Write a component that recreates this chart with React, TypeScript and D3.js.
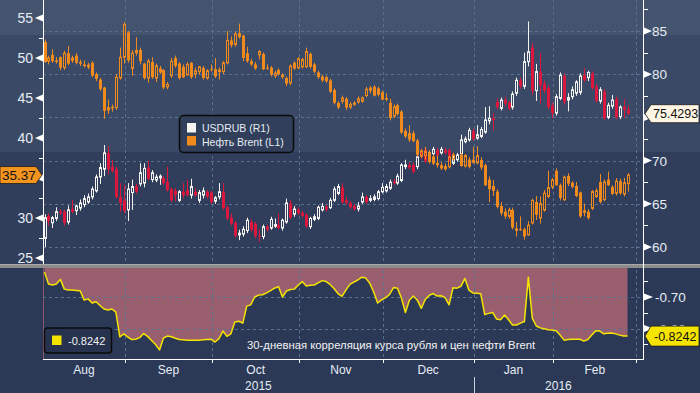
import React from 'react'
import * as d3 from 'd3'

type Candle = [number, number, number, number] // open, high, low, close

// Brent, daily candles from 3 Aug 2015 (null = no trading that day)
const brent: (Candle | null)[] = [
  [52.0, 52.3, 49.4, 49.5], [49.6, 50.3, 49.2, 50.0], [50.4, 51.1, 49.4, 49.6], [49.7, 50.1, 49.3, 49.5],
  [50.1, 50.2, 48.5, 48.8], [48.8, 50.9, 48.5, 50.6], [50.6, 51.5, 49.1, 49.3], [49.7, 50.3, 49.4, 50.0],
  [50.3, 50.6, 49.2, 49.4], [49.5, 49.8, 49.0, 49.3], [49.2, 49.7, 48.8, 49.0], [48.9, 49.4, 48.6, 49.1],
  [49.4, 49.6, 47.6, 47.8], [48.0, 48.2, 47.1, 47.4], [47.3, 47.5, 45.9, 46.1], [46.3, 46.4, 42.4, 43.4],
  [43.5, 44.8, 43.0, 43.8], [43.9, 44.2, 43.3, 43.7], [43.8, 48.0, 43.5, 47.6], [47.5, 51.3, 47.3, 50.1],
  [50.1, 54.5, 49.3, 54.2], [53.2, 53.4, 49.4, 49.7], [48.7, 51.0, 47.8, 50.6], [51.0, 52.6, 50.3, 50.6],
  [51.0, 51.3, 49.2, 49.6], [49.3, 49.4, 47.3, 47.5], [47.5, 49.9, 46.9, 49.6], [49.5, 50.1, 47.4, 47.6],
  [47.5, 49.3, 47.0, 49.0], [48.7, 49.0, 48.0, 48.2], [48.5, 48.6, 46.1, 46.3], [46.4, 47.0, 46.1, 46.7],
  [47.8, 50.0, 47.5, 49.6], [50.0, 50.3, 48.8, 49.0], [49.3, 49.5, 47.3, 47.5], [48.9, 49.2, 47.5, 47.6],
  [47.9, 49.5, 47.8, 49.2], [49.4, 49.5, 47.4, 47.6], [48.0, 48.8, 47.5, 48.4], [48.3, 49.0, 47.9, 48.9],
  [48.75, 49.0, 47.3, 47.5], [47.5, 48.6, 47.3, 48.4], [48.6, 49.2, 48.3, 48.5], [48.6, 50.0, 47.5, 47.7],
  [48.3, 48.8, 47.3, 48.5], [48.3, 49.6, 48.0, 49.4], [49.4, 53.4, 49.2, 52.2], [52.2, 52.7, 51.3, 51.6],
  [51.7, 53.3, 51.4, 53.0], [53.1, 54.3, 52.4, 52.6], [52.8, 52.9, 49.6, 50.0], [50.6, 51.4, 49.4, 49.6],
  [49.6, 49.9, 49.0, 49.2], [49.2, 49.5, 48.5, 48.7], [50.4, 51.0, 49.8, 50.8], [50.5, 50.7, 48.5, 48.6],
  [48.8, 49.2, 48.5, 48.7], [48.8, 49.0, 47.7, 47.9], [47.8, 48.4, 47.5, 48.1], [48.5, 48.7, 47.8, 48.0],
  [47.9, 48.1, 47.4, 47.6], [47.5, 47.7, 46.5, 46.8], [46.9, 49.2, 46.6, 49.0], [49.4, 49.6, 48.5, 48.7],
  [48.8, 50.1, 48.6, 49.9], [48.9, 50.0, 48.7, 49.8], [48.9, 51.3, 48.8, 50.8], [50.5, 50.7, 48.7, 48.9],
  [49.2, 49.4, 48.1, 48.3], [48.2, 48.4, 47.4, 47.6], [47.7, 47.9, 47.0, 47.2], [47.6, 47.8, 46.9, 47.1],
  [47.2, 47.4, 45.6, 45.8], [46.0, 46.2, 44.2, 44.4], [44.4, 44.6, 43.6, 43.8], [44.6, 45.3, 44.3, 45.0],
  [44.9, 45.1, 43.5, 43.8], [43.9, 44.5, 43.6, 44.2], [44.3, 44.6, 44.0, 44.35], [44.5, 45.2, 44.3, 44.9],
  [44.6, 45.2, 44.4, 45.0], [45.3, 46.4, 45.1, 46.1], [46.3, 46.5, 45.6, 45.9], [46.4, 46.6, 45.2, 45.3],
  [46.2, 46.4, 45.2, 45.4], [45.7, 45.9, 44.7, 44.8], [45.0, 45.6, 44.6, 44.8], [44.4, 44.9, 42.2, 42.5],
  [42.75, 44.2, 42.5, 43.9], [44.1, 44.3, 42.8, 43.0], [43.3, 43.5, 40.5, 40.7], [40.9, 41.2, 40.0, 40.2],
  [40.6, 41.6, 39.5, 39.8], [40.6, 40.9, 39.5, 39.6], [39.7, 39.9, 37.7, 37.9], [37.75, 38.6, 37.5, 38.4],
  [37.8, 38.9, 37.3, 38.3], [38.2, 38.5, 36.8, 37.0], [37.7, 37.9, 36.6, 36.8], [36.9, 37.8, 36.3, 36.6],
  [36.6, 37.0, 36.0, 36.2], [36.5, 36.8, 35.9, 36.1], [36.4, 37.8, 36.2, 37.6], [37.4, 38.2, 37.2, 37.9],
  null, [37.9, 38.1, 36.4, 36.5], [36.5, 38.0, 36.3, 37.8], [37.3, 37.6, 36.2, 36.4],
  [37.3, 38.9, 36.8, 36.9], [36.9, 39.0, 36.7, 37.8], [37.25, 37.6, 36.0, 36.3], [36.6, 36.8, 34.0, 34.1],
  [34.8, 35.2, 32.0, 33.6], [34.0, 34.75, 32.75, 33.4], [33.3, 33.6, 31.2, 31.4], [31.5, 32.0, 30.3, 30.6],
  [30.8, 31.2, 29.9, 30.2], [30.2, 31.3, 29.9, 31.0], [31.0, 31.3, 28.6, 28.8], [28.7, 29.5, 27.7, 28.4],
  [28.6, 30.2, 28.4, 28.5], [28.6, 28.8, 27.3, 27.7], [27.9, 29.6, 27.8, 29.1], [29.4, 32.4, 29.2, 32.2],
  [32.0, 32.75, 29.75, 30.4], [30.0, 32.7, 29.3, 31.8], [31.0, 33.5, 30.8, 33.1], [32.7, 35.9, 32.5, 33.8],
  [33.9, 35.0, 33.6, 34.75], [35.9, 36.2, 34.0, 34.1], [34.1, 34.3, 32.2, 32.5], [32.3, 35.3, 32.1, 35.1],
  [35.25, 35.6, 34.0, 34.3], [34.4, 34.6, 33.7, 33.9], [34.0, 34.5, 32.6, 32.75], [33.2, 33.3, 30.0, 30.2],
  [30.7, 31.8, 30.2, 30.9], [30.8, 31.1, 29.8, 30.0], [31.2, 33.5, 31.0, 33.3], [32.7, 33.7, 32.5, 33.4],
  [34.5, 35.5, 31.8, 32.0], [32.3, 34.8, 32.1, 34.5], [34.8, 35.8, 34.0, 34.1], [33.9, 34.1, 32.9, 33.0],
  [33.1, 35.0, 32.8, 34.6], [34.6, 34.9, 32.9, 33.1], [33.0, 35.0, 32.7, 34.4], [34.3, 35.6, 33.3, 35.37],
]

// USDRUB, same days
const usdrub: Candle[] = [
  [61.0, 63.8, 60.0, 63.4], [63.6, 63.9, 62.5, 63.0], [62.8, 63.6, 62.2, 63.4], [63.3, 64.6, 63.0, 64.1],
  [64.1, 64.4, 63.7, 63.9], [64.1, 64.3, 62.5, 62.8], [62.9, 64.8, 62.6, 64.3], [64.4, 65.4, 63.9, 64.1],
  [64.2, 64.9, 63.7, 64.75], [64.5, 65.5, 64.2, 65.1], [64.9, 66.0, 64.6, 65.6], [65.2, 66.2, 65.0, 65.8],
  [65.8, 67.0, 65.5, 66.7], [66.5, 68.4, 66.3, 68.1], [68.1, 69.7, 67.3, 69.2], [69.0, 71.8, 68.2, 70.9],
  [70.9, 71.7, 68.4, 69.0], [69.3, 70.1, 68.6, 68.8], [69.0, 69.3, 65.6, 65.8], [65.8, 67.4, 64.1, 65.1],
  [65.4, 67.2, 63.9, 64.2], [64.3, 67.4, 63.0, 66.7], [66.3, 67.8, 64.3, 67.0], [67.05, 67.3, 66.2, 66.4],
  [67.3, 69.7, 67.0, 68.6], [67.4, 69.7, 66.9, 69.1], [69.2, 70.0, 67.7, 67.9], [67.8, 68.9, 67.5, 68.6],
  [67.75, 68.4, 67.5, 68.1], [68.0, 68.4, 67.2, 68.2], [68.0, 68.2, 67.2, 67.4], [67.55, 69.3, 66.4, 66.6],
  [66.7, 66.9, 65.2, 65.4], [66.5, 66.8, 65.3, 66.0], [65.4, 66.6, 65.2, 66.4], [66.4, 67.4, 65.6, 66.0],
  [66.6, 67.8, 65.9, 66.0], [66.0, 67.9, 65.6, 67.0], [66.4, 66.8, 65.8, 66.0], [65.4, 66.6, 65.1, 66.3],
  [66.0, 66.9, 65.6, 66.5], [66.4, 66.6, 65.6, 65.8], [66.3, 66.5, 65.0, 65.2], [65.3, 65.9, 65.0, 65.7],
  [65.8, 67.4, 65.5, 66.4], [66.4, 67.4, 64.3, 64.5], [64.6, 64.8, 63.1, 63.3], [63.4, 63.9, 62.5, 62.7],
  [62.8, 63.0, 61.1, 61.3], [61.4, 62.0, 60.8, 61.6], [61.5, 62.4, 61.2, 62.05], [61.9, 63.4, 61.6, 63.1],
  [62.9, 63.2, 61.8, 62.0], [62.7, 62.9, 61.0, 61.3], [61.3, 62.0, 60.6, 61.2], [61.2, 62.6, 60.9, 62.35],
  [62.35, 62.6, 61.8, 62.0], [62.2, 63.5, 62.0, 63.2], [62.4, 63.3, 62.2, 62.6], [62.55, 63.9, 62.0, 62.2],
  [62.2, 63.3, 61.9, 63.1], [62.9, 65.6, 62.7, 65.1], [65.05, 65.4, 63.2, 63.4], [63.8, 64.75, 63.5, 64.4],
  [64.35, 64.6, 63.7, 63.9], [63.95, 64.2, 63.4, 63.6], [63.7, 63.9, 62.2, 62.4], [62.35, 63.5, 62.1, 63.3],
  [63.2, 63.8, 63.0, 63.5], [63.3, 64.8, 63.1, 64.6], [64.3, 65.1, 64.1, 64.7], [64.65, 64.9, 64.1, 64.35],
  [64.55, 65.7, 64.4, 65.4], [65.4, 67.0, 65.2, 66.7], [66.2, 67.3, 66.0, 67.0], [66.9, 67.4, 65.0, 65.2],
  [65.4, 65.8, 64.9, 65.1], [65.1, 65.3, 64.4, 64.6], [64.75, 65.0, 64.2, 64.4], [64.4, 65.2, 64.1, 64.75],
  [65.2, 66.3, 65.0, 65.8], [65.8, 66.0, 65.0, 65.2], [65.4, 66.0, 65.2, 65.6], [65.5, 66.1, 65.3, 65.8],
  [65.6, 66.6, 65.4, 66.4], [66.4, 67.4, 66.2, 66.9], [66.5, 67.3, 66.3, 67.0], [66.8, 67.8, 66.6, 67.5],
  [67.6, 67.9, 67.2, 67.4], [67.4, 68.5, 67.2, 68.2], [67.7, 69.7, 67.5, 69.5], [69.3, 70.1, 69.0, 69.5],
  [69.5, 69.8, 69.0, 69.2], [69.5, 69.8, 68.5, 68.7], [69.3, 70.8, 69.0, 70.45], [71.0, 71.4, 70.2, 70.45],
  [71.3, 71.6, 69.7, 69.9], [70.5, 71.2, 70.2, 70.9], [70.8, 71.6, 70.6, 71.3], [71.2, 71.5, 70.4, 70.6],
  [70.9, 71.6, 70.7, 71.3], [71.2, 71.5, 70.7, 70.9], [71.2, 71.4, 69.9, 70.1], [69.7, 70.6, 69.5, 70.3],
  [70.1, 70.9, 69.9, 70.65], [70.8, 73.0, 70.6, 72.4], [72.2, 72.8, 72.0, 72.5], [72.4, 73.8, 72.2, 73.5],
  [73.4, 73.7, 72.3, 72.5], [72.6, 74.1, 72.4, 73.0], [72.8, 73.9, 72.6, 73.6], [73.3, 76.2, 73.1, 74.7],
  [74.6, 76.3, 74.2, 74.9], [74.9, 75.5, 73.5, 74.7], [76.8, 77.2, 75.9, 76.2], [76.05, 77.3, 75.8, 77.0],
  [77.0, 77.4, 76.3, 76.6], [76.7, 76.9, 75.8, 76.05], [76.2, 78.0, 75.9, 77.7], [77.8, 79.6, 77.5, 79.3],
  [79.3, 79.6, 78.3, 78.6], [78.6, 82.5, 78.3, 81.45], [81.45, 86.1, 80.9, 82.6], [83.1, 83.6, 77.6, 78.1],
  [78.1, 81.2, 76.9, 80.3], [80.3, 82.4, 76.6, 78.75], [78.9, 79.3, 77.8, 78.1], [78.4, 78.7, 75.9, 76.2],
  [76.4, 76.7, 74.9, 75.5], [75.5, 77.7, 75.2, 77.4], [77.2, 80.2, 77.0, 79.9], [79.8, 80.1, 76.5, 76.8],
  [77.0, 77.8, 75.7, 77.3], [77.4, 78.6, 77.1, 78.2], [77.8, 79.3, 77.5, 79.1], [77.9, 80.1, 77.6, 79.8],
  [79.9, 80.7, 79.1, 79.3], [79.6, 80.4, 79.2, 80.2], [80.1, 80.3, 78.2, 78.4], [78.55, 78.9, 76.7, 76.9],
  [76.9, 78.5, 76.6, 78.2], [78.0, 78.3, 74.7, 74.9], [75.0, 76.7, 74.8, 76.4], [76.3, 77.6, 76.0, 77.0],
  [77.1, 77.4, 74.8, 75.0], [75.1, 76.4, 74.8, 76.2], [76.2, 77.1, 74.9, 75.9], [75.9, 76.4, 75.3, 75.4293],
]

// 30-day correlation USDRUB / Brent
const correlation: number[] = [
  -0.621, -0.659, -0.662, -0.659, -0.644, -0.675, -0.678, -0.678, -0.679, -0.680,
  -0.710, -0.706, -0.719, -0.715, -0.727, -0.738, -0.741, -0.738, -0.748, -0.827,
  -0.817, -0.827, -0.835, -0.834, -0.829, -0.816, -0.825, -0.838, -0.851, -0.868,
  -0.830, -0.824, -0.826, -0.831, -0.835, -0.836, -0.837, -0.837, -0.837, -0.837,
  -0.836, -0.835, -0.834, -0.843, -0.832, -0.808, -0.825, -0.817, -0.779, -0.777,
  -0.783, -0.729, -0.725, -0.700, -0.694, -0.693, -0.687, -0.680, -0.672, -0.667,
  -0.700, -0.681, -0.676, -0.675, -0.662, -0.651, -0.665, -0.663, -0.662, -0.655,
  -0.648, -0.651, -0.660, -0.673, -0.689, -0.698, -0.678, -0.660, -0.653, -0.646,
  -0.637, -0.640, -0.656, -0.684, -0.719, -0.709, -0.702, -0.692, -0.670, -0.672,
  -0.703, -0.749, -0.710, -0.697, -0.710, -0.736, -0.708, -0.695, -0.689, -0.697,
  -0.696, -0.702, -0.725, -0.671, -0.672, -0.666, -0.641, -0.678, -0.687, -0.688,
  -0.690, -0.756, -0.752, -0.749, -0.770, -0.772, -0.757, -0.772, -0.789, -0.789,
  -0.783, -0.778, -0.637, -0.768, -0.792, -0.798, -0.801, -0.804, -0.805, -0.807,
  -0.821, -0.837, -0.835, -0.834, -0.834, -0.834, -0.840, -0.835, -0.821, -0.807,
  -0.808, -0.817, -0.815, -0.814, -0.817, -0.821, -0.824, -0.8242,
]

const brentTicks = [25, 30, 35, 40, 45, 50, 55]
const brentMinor = [27.5, 32.5, 37.5, 42.5, 47.5, 52.5]
const usdrubTicks = [60, 65, 70, 75, 80, 85]
const usdrubMinor = [62.5, 67.5, 72.5, 77.5, 82.5, 87.5]
const corrTicks = [-0.7, -0.8]
const corrMinor = [-0.65, -0.75, -0.85]
const holidays = ['2016-01-01']
const legendNames = ['USDRUB (R1)', 'Нефть Brent (L1)']
const caption = '30-дневная корреляция курса рубля и цен нефти Brent'

const W = 700
const H = 393
const LEFT = 43
const RIGHT = 643
const TOP_END = 264
const LOW_TOP = 268
const LOW_END = 359

const ORANGE = '#f08a1c'
const WHITE = '#f6f4f0'
const RED = '#dc173d'
const YELLOW = '#f5e400'
const GRID = '#57718f'
const TXT = '#e6ecf4'
const FONT = '"Liberation Sans", Arial, sans-serif'

const fmtDay = d3.timeFormat('%Y-%m-%d')
const fmtMonth = d3.timeFormat('%b')

const App = () => {
  const days = d3
    .timeDay.range(new Date(2015, 7, 3), new Date(2016, 2, 5))
    .filter((d) => d.getDay() % 6 !== 0 && !holidays.includes(fmtDay(d)))

  const x = d3.scaleLinear().domain([0, brent.length - 1]).range([44.5, 627.5])
  const yL = d3.scaleLinear().domain([25, 55]).range([258, 18])
  const yR = d3.scaleLinear().domain([60, 85]).range([247, 31])
  const yC = d3.scaleLinear().domain([-0.8, -0.7]).range([328.5, 297])

  // month boundary sits just before the first trading day of the month
  const edge = (i: number) => x(i - 0.75)
  const bounds = days
    .map((_, i) => i)
    .filter((i) => i > 0 && days[i].getMonth() !== days[i - 1].getMonth())
  const months = bounds.map((b, k) => {
    const start = k === 0 ? 0 : bounds[k - 1]
    const x0 = k === 0 ? LEFT : edge(bounds[k - 1])
    return { label: fmtMonth(days[start]), cx: (x0 + edge(b)) / 2 }
  })
  const yearBound = bounds.find((b) => days[b].getFullYear() !== days[b - 1].getFullYear()) as number
  const years = [
    { label: String(days[0].getFullYear()), cx: (LEFT + edge(yearBound)) / 2 },
    { label: String(days[yearBound].getFullYear()), cx: (edge(yearBound) + RIGHT) / 2 },
  ]

  const area = d3
    .area<number>()
    .x((_, i) => x(i))
    .y0(LOW_TOP)
    .y1((v) => yC(v))
  const line = d3
    .line<number>()
    .x((_, i) => x(i))
    .y((v) => yC(v))

  const drawCandles = (data: (Candle | null)[], y: d3.ScaleLinear<number, number>, upColor: string, downColor: string, key: string) =>
    data.map((d, i) => {
      if (!d) return null
      const [o, h, l, c] = d
      const r = Math.round(x(i))
      const top = y(Math.max(o, c))
      const bot = y(Math.min(o, c))
      const bh = Math.max(bot - top, 1)
      if (c >= o) {
        return (
          <g key={key + i}>
            <line x1={r + 0.5} x2={r + 0.5} y1={y(h)} y2={top} stroke={upColor} strokeWidth={1} />
            <line x1={r + 0.5} x2={r + 0.5} y1={top + bh} y2={y(l)} stroke={upColor} strokeWidth={1} />
            <rect x={r - 0.5} y={top} width={2} height={bh} fill="none" stroke={upColor} strokeWidth={1} />
          </g>
        )
      }
      return (
        <g key={key + i}>
          <line x1={r + 0.5} x2={r + 0.5} y1={y(h)} y2={y(l)} stroke={downColor} strokeWidth={1} />
          <rect x={r - 1} y={top} width={3} height={bh} fill={downColor} />
        </g>
      )
    })

  const lastBrent = (brent[brent.length - 1] as Candle)[3]
  const lastRub = usdrub[usdrub.length - 1][3]
  const lastCorr = correlation[correlation.length - 1]
  const yb = yL(lastBrent)
  const yr = yR(lastRub)
  const yc = yC(lastCorr)

  // axis labels that sit fully under a last-value tag are not drawn
  const underTag = (y: number, tagY: number) => Math.abs(y - tagY) < 6

  return (
    <svg width={W} height={H} style={{ position: 'absolute', left: 0, top: 0, display: 'block' }} fontFamily={FONT}>
      {/* background bands */}
      <rect x={0} y={0} width={W} height={H} fill="#2b3957" />
      <rect x={0} y={0} width={W} height={35} fill="#45546e" />
      <rect x={0} y={35} width={W} height={117} fill="#3a4965" />
      <rect x={0} y={152} width={W} height={TOP_END - 152} fill="#303e5b" />

      {/* correlation fill */}
      <path d={area(correlation) || ''} fill="#9a5f6e" />
      <line x1={LEFT + 0.5} x2={LEFT + 0.5} y1={LOW_TOP} y2={LOW_END} stroke="#8a5868" />

      {/* grid */}
      {usdrubTicks.map((t) => (
        <line key={'gr' + t} x1={LEFT} x2={RIGHT} y1={Math.round(yR(t)) + 0.5} y2={Math.round(yR(t)) + 0.5} stroke={GRID} strokeDasharray="3 3" />
      ))}
      {corrTicks.map((t) => (
        <line key={'gc' + t} x1={LEFT} x2={RIGHT} y1={Math.round(yC(t)) + 0.5} y2={Math.round(yC(t)) + 0.5} stroke={GRID} strokeDasharray="3 3" />
      ))}
      {bounds.map((b) => (
        <line key={'gv' + b} x1={Math.round(edge(b)) + 0.5} x2={Math.round(edge(b)) + 0.5} y1={0} y2={LOW_END} stroke={GRID} strokeDasharray="3 3" />
      ))}

      {/* candles */}
      {drawCandles(usdrub, yR, WHITE, RED, 'r')}
      {drawCandles(brent, yL, ORANGE, ORANGE, 'b')}

      {/* correlation line */}
      <path d={line(correlation) || ''} fill="none" stroke={YELLOW} strokeWidth={1.5} strokeLinejoin="round" />

      {/* panel separator */}
      <rect x={0} y={TOP_END} width={W} height={4} fill="#8c8c8c" />
      <rect x={0} y={TOP_END} width={W} height={1} fill="#a8a8a8" />

      {/* axes */}
      <line x1={LEFT + 0.5} x2={LEFT + 0.5} y1={0} y2={TOP_END} stroke="#fff" />
      <line x1={RIGHT + 0.5} x2={RIGHT + 0.5} y1={0} y2={LOW_END} stroke="#fff" />
      <line x1={LEFT} x2={RIGHT + 1} y1={LOW_END + 0.5} y2={LOW_END + 0.5} stroke="#fff" />

      {brentTicks.map((t) => {
        const y = yL(t)
        return (
          <g key={'lt' + t}>
            <path d={`M35,${y} L43,${y - 3.5} L43,${y + 3.5} Z`} fill="#fff" />
            {!underTag(y, yb) && (
              <text x={33} y={y + 5} textAnchor="end" fontSize={14} fill={TXT}>
                {t}
              </text>
            )}
          </g>
        )
      })}
      {brentMinor.map((t) => (
        <line key={'lm' + t} x1={39} x2={43} y1={Math.round(yL(t)) + 0.5} y2={Math.round(yL(t)) + 0.5} stroke="#fff" />
      ))}

      {usdrubTicks.map((t) => {
        const y = yR(t)
        return (
          <g key={'rt' + t}>
            <path d={`M652,${y} L644,${y - 3.5} L644,${y + 3.5} Z`} fill="#fff" />
            {!underTag(y, yr) && (
              <text x={652} y={y + 5} fontSize={13.5} fill={TXT}>
                {t}
              </text>
            )}
          </g>
        )
      })}
      {usdrubMinor.map((t) => (
        <line key={'rm' + t} x1={643} x2={648} y1={Math.round(yR(t)) + 0.5} y2={Math.round(yR(t)) + 0.5} stroke="#fff" />
      ))}

      {corrTicks.map((t) => {
        const y = yC(t)
        return (
          <g key={'ct' + t}>
            <path d={`M653,${y} L644,${y - 3.5} L644,${y + 3.5} Z`} fill="#fff" />
            <text x={655} y={y + 5} fontSize={13.5} fill={TXT}>
              {t.toFixed(2)}
            </text>
          </g>
        )
      })}
      {corrMinor.map((t) => (
        <line key={'cm' + t} x1={643} x2={648} y1={Math.round(yC(t)) + 0.5} y2={Math.round(yC(t)) + 0.5} stroke="#fff" />
      ))}

      {/* month ticks and labels */}
      {bounds.map((b) => (
        <line key={'mt' + b} x1={Math.round(edge(b)) + 0.5} x2={Math.round(edge(b)) + 0.5} y1={LOW_END} y2={LOW_END + 4} stroke="#fff" />
      ))}
      {months.map((m) => (
        <text key={m.label} x={m.cx} y={374} textAnchor="middle" fontSize={12} fill={TXT}>
          {m.label}
        </text>
      ))}
      <line x1={Math.round(edge(yearBound)) + 0.5} x2={Math.round(edge(yearBound)) + 0.5} y1={377} y2={H} stroke="#c9d1dc" />
      {years.map((yv) => (
        <text key={yv.label} x={yv.cx} y={390} textAnchor="middle" fontSize={12} fill={TXT}>
          {yv.label}
        </text>
      ))}

      {/* top legend */}
      <rect x={179.5} y={115.5} width={114} height={37} rx={4} fill="#313f5b" stroke="#0b0b0b" strokeWidth={1.5} />
      <rect x={187} y={123} width={9} height={9.5} fill={WHITE} />
      <text x={202} y={132} fontSize={10.5} fill={TXT}>
        {legendNames[0]}
      </text>
      <rect x={187} y={136} width={9} height={9.5} fill={ORANGE} />
      <text x={202} y={145.5} fontSize={10.5} fill={TXT}>
        {legendNames[1]}
      </text>

      {/* bottom legend */}
      <rect x={44.5} y={328} width={67} height={25} rx={3} fill="#27334e" stroke="#0b0b0b" strokeWidth={1.5} />
      <rect x={52} y={335.5} width={9.5} height={9.5} fill={YELLOW} />
      <text x={68} y={344.5} fontSize={11} fill="#f2f2f2">
        {lastCorr.toFixed(4)}
      </text>
      <text x={247} y={349} fontSize={11.3} fill="#f2f2f2">
        {caption}
      </text>

      {/* last value tags */}
      <path d={`M0,${yb - 8.5} H36 L42,${yb} L36,${yb + 8.5} H0 Z`} fill="#f3941f" stroke="#1a1a1a" strokeWidth={0.8} />
      <text x={2} y={yb + 5} fontSize={13.5} fill="#111">
        {lastBrent.toFixed(2)}
      </text>
      <path d={`M645,${yr} L651,${yr - 9} H699 V${yr + 9} H651 Z`} fill="#fff6e6" stroke="#1a1a1a" strokeWidth={0.8} />
      <text x={653} y={yr + 4.5} fontSize={12.5} fill="#111">
        {lastRub.toFixed(4)}
      </text>
      <path d={`M645,${yc} L651,${yc - 10} H699 V${yc + 10} H651 Z`} fill={YELLOW} stroke="#1a1a1a" strokeWidth={0.8} />
      <text x={654} y={yc + 4.5} fontSize={12.5} fill="#111">
        {lastCorr.toFixed(4)}
      </text>
    </svg>
  )
}

export default App
